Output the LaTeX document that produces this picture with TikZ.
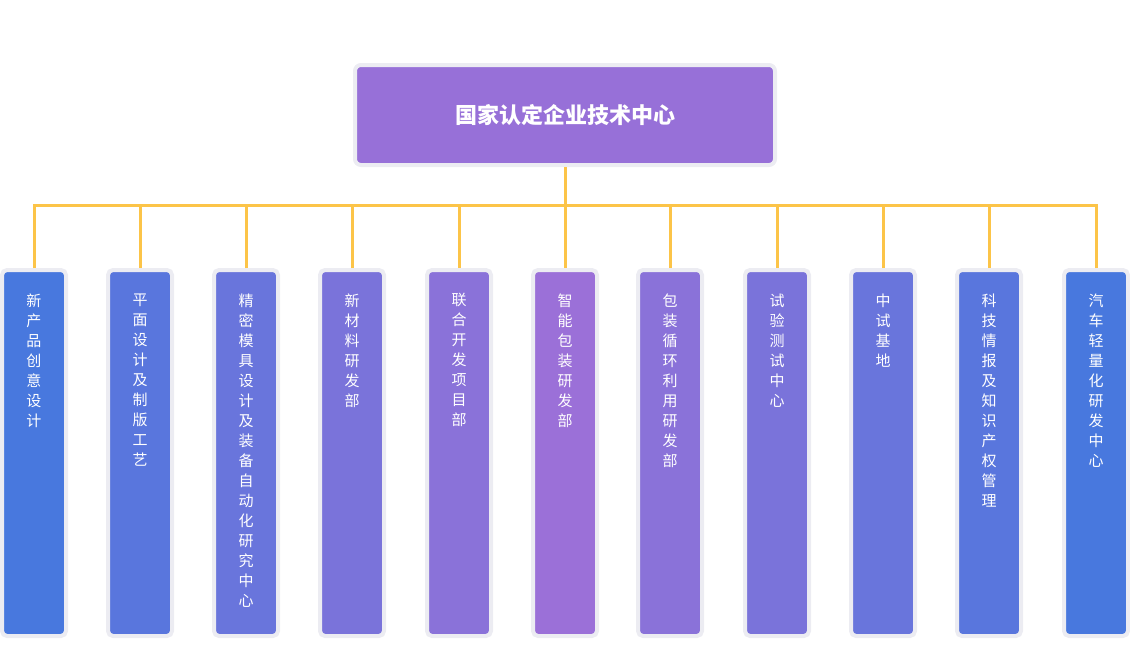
\documentclass[tikz,border=0pt]{standalone}
\usepackage{fontspec}
\setmainfont{Noto Sans CJK SC}
\definecolor{cB}{RGB}{72,120,222}
\definecolor{cP}{RGB}{155,112,216}
\definecolor{ln}{RGB}{252,196,72}
\definecolor{bd}{RGB}{236,236,242}
\begin{document}
\begin{tikzpicture}[x=1pt,y=-1pt,
  box/.style={draw=bd,line width=4pt,rounded corners=5pt,minimum width=64pt,minimum height=366pt,anchor=north,inner sep=0pt},
  lbl/.style={text=white,font=\fontsize{15}{20}\selectfont,align=center,anchor=north},
  conn/.style={draw=ln,line width=3pt}]
\useasboundingbox (0,0) rectangle (1130,656);
\node[draw=bd,line width=4pt,rounded corners=6pt,fill=cP!95!cB,minimum width=420pt,minimum height=100pt,text=white,font=\fontsize{22}{26}\selectfont\bfseries] (root) at (565,115) {国家认定企业技术中心};
\coordinate (hub) at (565,205);
\foreach \i/\x/\t in {
1/34/{新\\产\\品\\创\\意\\设\\计},
2/140/{平\\面\\设\\计\\及\\制\\版\\工\\艺},
3/246/{精\\密\\模\\具\\设\\计\\及\\装\\备\\自\\动\\化\\研\\究\\中\\心},
4/352/{新\\材\\料\\研\\发\\部},
5/459/{联\\合\\开\\发\\项\\目\\部},
6/565/{智\\能\\包\\装\\研\\发\\部},
7/670/{包\\装\\循\\环\\利\\用\\研\\发\\部},
8/777/{试\\验\\测\\试\\中\\心},
9/883/{中\\试\\基\\地},
10/989/{科\\技\\情\\报\\及\\知\\识\\产\\权\\管\\理},
11/1096/{汽\\车\\轻\\量\\化\\研\\发\\中\\心}}{
  \pgfmathsetmacro{\m}{100-abs(\i-6)*20}
  \node[box,fill=cP!\m!cB] (c\i) at (\x,268) {};
  \node[lbl] (t\i) at (\x,290) {\t};
  \draw[conn] (c\i.north) -- (\x,205);
}
\draw[conn] (root.south) -- (hub);
\draw[conn] (c1.north) -- (34,205) -- (1096,205) -- (c11.north);
\end{tikzpicture}
\end{document}
